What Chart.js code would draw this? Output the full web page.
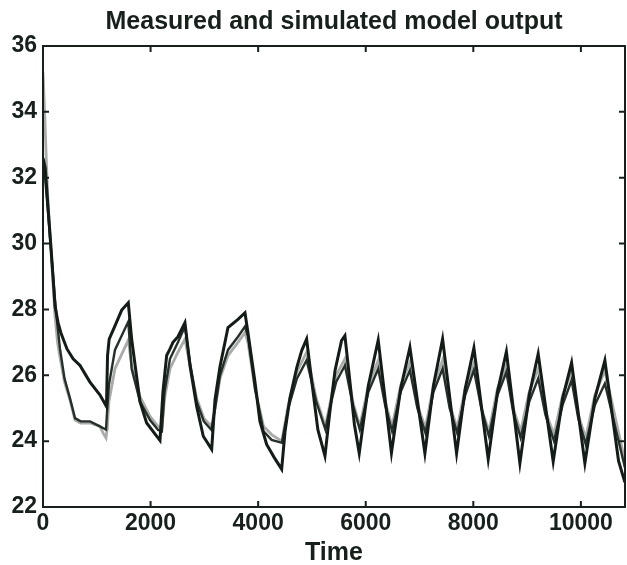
<!DOCTYPE html>
<html>
<head>
<meta charset="utf-8">
<script src="https://cdn.jsdelivr.net/npm/chart.js@4.4.1/dist/chart.umd.min.js"></script>
<style>
  html, body { margin: 0; padding: 0; background: #ffffff; }
  #wrap { width: 627px; height: 565px; }
</style>
</head>
<body>
<div id="wrap"><canvas id="c" width="627" height="565"></canvas></div>
<script>
// ---- data ----
const titleText = 'Measured and simulated model output';
const xTitle = 'Time';
const xTickValues = [0, 2000, 4000, 6000, 8000, 10000];
const yTickValues = [22, 24, 26, 28, 30, 32, 34, 36];

// measured output (black, larger swing)
const timeMeasured = [0,40,90,143,186,223,280,330,446,560,688,870,1060,1180,
  1200,1230,1338,1463,1586,1648,1803,1927,2113,2175,
  2230,2299,2361,2416,2509,2639,2732,2857,2980,3136,
  3197,3290,3439,3625,3755,3810,3941,4033,4158,4300,4437,
  4500,4590,4720,4810,4901,4990,5110,5242,
  5330,5430,5550,5613,5700,5790,5879,
  6050,6232,6478,6650,6821,7100,7260,7429,7689,7850,8011,8277,
  8450,8615,8866,9040,9206,9485,9660,9827,10074,10260,10446,10700,10818];
const measured = [32.6,32.3,31.2,30.0,29.0,28.1,27.6,27.3,26.8,26.5,26.3,25.8,25.4,25.05,
  26.6,27.1,27.5,27.98,28.2,27.1,25.2,24.55,24.15,24.02,
  25.5,26.6,26.8,27.0,27.17,27.6,26.3,25.05,24.15,23.75,
  25.25,26.26,27.45,27.7,27.9,27.3,25.8,24.6,23.9,23.5,23.15,
  24.3,25.3,26.25,26.75,27.1,25.9,24.35,23.55,
  24.85,26.15,27.05,27.2,25.9,24.5,23.63,
  25.7,27.07,23.64,25.6,26.85,23.63,25.7,27.1,23.63,25.6,26.83,23.45,
  25.5,26.72,23.33,25.4,26.65,23.38,25.3,26.38,23.33,25.3,26.45,23.4,22.75];

// simulated outputs (shared time base)
const timeSim = [0,30,60,100,160,223,270,316,400,502,595,700,874,1059,1115,1171,
  1195,1225,1338,1586,1648,1803,1990,2140,2210,
  2260,2361,2509,2639,2732,2857,2990,3130,
  3200,3290,3439,3625,3755,3810,3941,4100,4250,4440,
  4560,4720,4901,5080,5250,
  5330,5450,5613,5760,5890,
  6050,6232,6360,6490,
  6650,6821,6960,7110,
  7260,7429,7560,7700,
  7850,8011,8150,8290,
  8450,8615,8740,8880,
  9040,9206,9340,9500,
  9660,9827,9950,10090,
  10260,10446,10818];
// dark simulated line
const simDark = [32.5,32.2,31.6,30.8,29.6,28.3,27.5,26.8,25.9,25.3,24.7,24.6,24.6,24.45,24.4,24.35,
  25.0,25.7,26.77,27.63,26.2,25.2,24.64,24.34,24.3,
  25.5,26.5,27.0,27.48,26.4,25.2,24.6,24.34,
  25.0,26.0,26.77,27.17,27.48,27.2,25.6,24.3,24.04,23.95,
  25.0,25.9,26.46,25.2,24.35,
  25.0,25.8,26.3,25.1,24.35,
  25.5,26.2,25.1,24.3,
  25.5,26.15,25.0,24.25,
  25.5,26.2,25.0,24.25,
  25.4,26.16,25.0,24.15,
  25.4,26.1,24.9,24.1,
  25.2,25.9,24.8,24.0,
  25.1,25.85,24.7,23.9,
  25.1,25.75,23.2];
// light grey simulated line
const simLight = [35.2,34.0,32.6,31.0,29.5,27.8,27.0,26.55,25.8,25.25,24.64,24.55,24.55,24.45,24.25,24.1,
  24.4,25.2,26.2,27.07,26.3,25.35,24.75,24.45,24.4,
  25.3,26.2,26.7,27.1,26.3,25.3,24.7,24.45,
  25.0,25.9,26.6,27.0,27.3,27.0,25.6,24.45,24.2,24.0,
  25.1,26.1,26.7,25.3,24.45,
  25.1,26.0,26.5,25.2,24.45,
  25.7,26.45,25.2,24.45,
  25.7,26.4,25.1,24.4,
  25.7,26.46,25.1,24.4,
  25.6,26.36,25.0,24.3,
  25.6,26.3,25.0,24.3,
  25.5,26.2,24.9,24.2,
  25.4,26.1,24.8,24.1,
  25.4,26.15,23.4];

// ---- chart ----
const FONT = '"Liberation Sans", Arial, Helvetica, sans-serif';
const INK = '#18201c';
const pts = (xs, ys) => xs.map((x, i) => ({ x: x, y: ys[i] }));

const framePlugin = {
  id: 'frame',
  afterDatasetsDraw(chart) {
    const { ctx, chartArea: a, scales } = chart;
    const xs = scales.x, ys = scales.y;
    ctx.save();
    ctx.strokeStyle = INK;
    ctx.lineWidth = 2;
    ctx.strokeRect(a.left, a.top, a.right - a.left, a.bottom - a.top);
    const L = 6;
    ctx.beginPath();
    xs.ticks.forEach(t => {
      const p = xs.getPixelForValue(t.value);
      if (p <= a.left + 1 || p >= a.right - 1) return;
      ctx.moveTo(p, a.bottom); ctx.lineTo(p, a.bottom - L);
      ctx.moveTo(p, a.top); ctx.lineTo(p, a.top + L);
    });
    ys.ticks.forEach(t => {
      const p = ys.getPixelForValue(t.value);
      if (p <= a.top + 1 || p >= a.bottom - 1) return;
      ctx.moveTo(a.left, p); ctx.lineTo(a.left + L, p);
      ctx.moveTo(a.right, p); ctx.lineTo(a.right - L, p);
    });
    ctx.stroke();
    ctx.restore();
  }
};

new Chart(document.getElementById('c'), {
  type: 'line',
  data: {
    datasets: [
      { label: 'Measured', data: pts(timeMeasured, measured), borderColor: '#141c18', borderWidth: 3 },
      { label: 'Simulated 1', data: pts(timeSim, simDark), borderColor: '#26302b', borderWidth: 2.4 },
      { label: 'Simulated 2', data: pts(timeSim, simLight), borderColor: '#a9aca9', borderWidth: 2.8 }
    ]
  },
  options: {
    responsive: false,
    animation: false,
    elements: { point: { radius: 0 }, line: { tension: 0 } },
    layout: { padding: { left: 0, right: 2, top: 0, bottom: 0 } },
    plugins: {
      legend: { display: false },
      tooltip: { enabled: false },
      title: {
        display: true,
        text: titleText,
        fullSize: false,
        color: INK,
        font: { family: FONT, size: 25, weight: 'bold', lineHeight: 1 },
        padding: { top: 10, bottom: 11 }
      }
    },
    scales: {
      x: {
        type: 'linear',
        min: 0,
        max: 10820,
        afterFit: s => { s.height = 58; },
        afterBuildTicks: s => { s.ticks = xTickValues.map(v => ({ value: v })); },
        grid: { display: false, drawTicks: false },
        border: { display: false },
        ticks: {
          color: INK, padding: 5, maxRotation: 0, autoSkip: false,
          callback: v => String(v),
          font: { family: FONT, size: 23, weight: 'bold', lineHeight: 1 }
        },
        title: {
          display: true, text: xTitle, color: INK,
          font: { family: FONT, size: 25, weight: 'bold', lineHeight: 0.8 },
          padding: { top: 0, bottom: 2 }
        }
      },
      y: {
        min: 22,
        max: 36,
        afterFit: s => { s.width = 43; },
        afterBuildTicks: s => { s.ticks = yTickValues.map(v => ({ value: v })); },
        grid: { display: false, drawTicks: false },
        border: { display: false },
        ticks: {
          color: INK, padding: 6, autoSkip: false,
          callback: v => String(v),
          font: { family: FONT, size: 23, weight: 'bold', lineHeight: 1 }
        }
      }
    }
  },
  plugins: [framePlugin]
});
</script>
</body>
</html>
